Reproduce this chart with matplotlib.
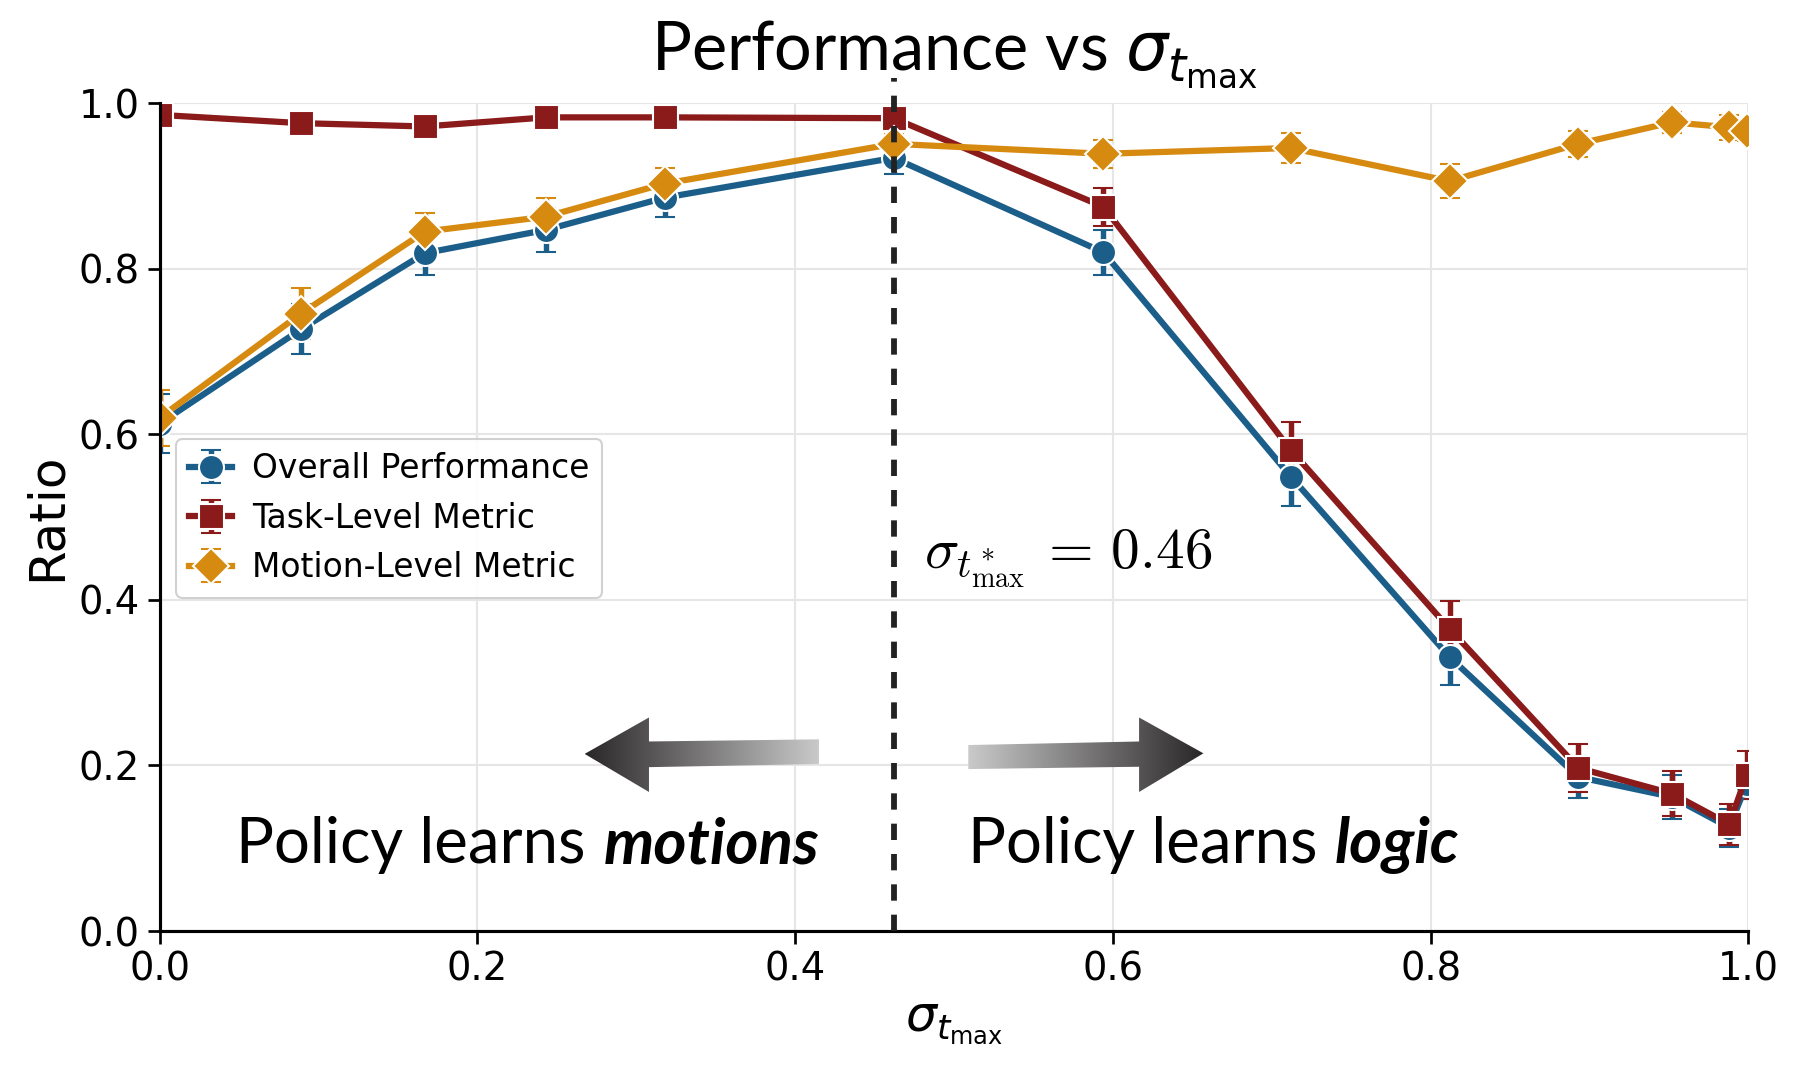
import numpy as np
import matplotlib
matplotlib.use("Agg")
import matplotlib.pyplot as plt
from matplotlib.patches import Polygon
from matplotlib.colors import LinearSegmentedColormap

sigma = [0.0, 0.089, 0.167, 0.243, 0.318, 0.462, 0.594, 0.712, 0.812, 0.893, 0.952, 0.988, 0.999]

overall = [0.613, 0.727, 0.819, 0.847, 0.886, 0.934, 0.820, 0.549, 0.331, 0.186, 0.162, 0.125, 0.178]
overall_err = [0.036, 0.030, 0.027, 0.027, 0.023, 0.020, 0.027, 0.036, 0.034, 0.025, 0.027, 0.023, 0.018]

task = [0.986, 0.976, 0.972, 0.983, 0.983, 0.982, 0.875, 0.581, 0.365, 0.197, 0.166, 0.129, 0.189]
task_err = [0.010, 0.006, 0.006, 0.005, 0.005, 0.008, 0.023, 0.034, 0.034, 0.029, 0.027, 0.025, 0.029]

motion = [0.620, 0.746, 0.845, 0.863, 0.903, 0.951, 0.939, 0.946, 0.906, 0.951, 0.977, 0.971, 0.967]
motion_err = [0.034, 0.031, 0.022, 0.022, 0.019, 0.012, 0.017, 0.018, 0.021, 0.016, 0.013, 0.015, 0.012]

sigma_star = 0.462
ticks = [0.0, 0.2, 0.4, 0.6, 0.8, 1.0]

c_blue = "#1b5e8a"
c_red = "#8b1a1a"
c_orange = "#d68a10"

fig = plt.figure(figsize=(12, 7.1067), dpi=150)
ax = fig.add_axes([0.0887, 0.1266, 0.8826, 0.7765])

series = [
    (overall, overall_err, c_blue, "o", "Overall Performance"),
    (task, task_err, c_red, "s", "Task-Level Metric"),
    (motion, motion_err, c_orange, "D", "Motion-Level Metric"),
]
for vals, errs, col, mk, lab in series:
    ax.errorbar(sigma, vals, yerr=errs, fmt="-" + mk, color=col, lw=3.0,
                ms=12, mec="white", mew=1.0, capsize=5, elinewidth=2.6,
                capthick=1.6, label=lab)

ax.plot([sigma_star, sigma_star], [0, 1.03], color="#222222", lw=2.8,
        dashes=(2.8, 2.4), zorder=10, clip_on=False)


def gradient_arrow(pts, dark_left):
    poly = Polygon(pts, closed=True, facecolor="none", edgecolor="none")
    ax.add_patch(poly)
    xs = [p[0] for p in pts]
    ys = [p[1] for p in pts]
    cols = ["#2a2728", "#cacaca"] if dark_left else ["#cacaca", "#2a2728"]
    cmap = LinearSegmentedColormap.from_list("g", cols)
    grad = np.linspace(0, 1, 256).reshape(1, -1)
    im = ax.imshow(grad, extent=[min(xs), max(xs), min(ys), max(ys)],
                   cmap=cmap, aspect="auto", zorder=3, interpolation="bilinear")
    im.set_clip_path(poly)


gradient_arrow([(0.2675, 0.214), (0.308, 0.258), (0.308, 0.229), (0.415, 0.2316),
                (0.415, 0.2018), (0.308, 0.198), (0.308, 0.168)], True)
gradient_arrow([(0.509, 0.2247), (0.6165, 0.229), (0.6165, 0.258), (0.657, 0.2147),
                (0.6165, 0.168), (0.6165, 0.1985), (0.509, 0.1957)], False)

ax.text(0.268, 0.082, "Policy learns", family="Lato", fontsize=30.5, ha="right", va="baseline")
ax.text(0.2795, 0.082, "motions", family="Lato", fontsize=30.5, fontweight="bold",
        fontstyle="italic", ha="left", va="baseline")
ax.text(0.729, 0.082, "Policy learns", family="Lato", fontsize=30.5, ha="right", va="baseline")
ax.text(0.7395, 0.082, "logic", family="Lato", fontsize=30.5, fontweight="bold",
        fontstyle="italic", ha="left", va="baseline")

ax.text(0.481, 0.438, r"$\sigma_{t^*_{\max}} \,=\, 0.46$", fontsize=27.5, math_fontfamily="cm",
        ha="left", va="baseline")

ax.set_xlim(0, 1)
ax.set_ylim(0, 1)
ax.set_xticks(ticks)
ax.set_yticks(ticks)
ax.grid(True, color="#e6e6e6", lw=1.0, zorder=0)
ax.set_axisbelow(True)
for s in ["top", "right"]:
    ax.spines[s].set_visible(False)
for s in ["left", "bottom"]:
    ax.spines[s].set_linewidth(1.5)
ax.tick_params(labelsize=18.5, length=6, width=1.3)

ax.set_xlabel(r"$\sigma_{t_{\max}}$", fontsize=23.5, labelpad=5)
ax.set_ylabel("Ratio", fontsize=24)
ax.set_title(r"Performance vs $\sigma_{t_{\max}}$", family="Lato", fontsize=32, pad=16)

leg = ax.legend(loc="upper left", bbox_to_anchor=(0.0, 0.614), fontsize=15.8,
                handlelength=1.3, handletextpad=0.6, frameon=True, fancybox=True,
                framealpha=0.9, edgecolor="#cccccc")

fig.savefig("out.png", dpi=150)
